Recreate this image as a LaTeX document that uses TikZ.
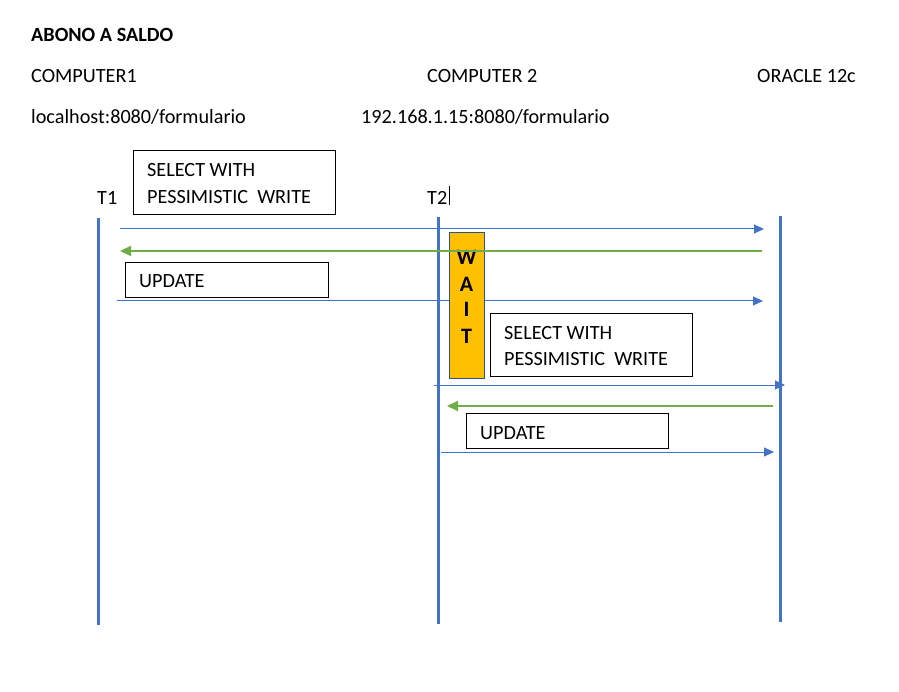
\documentclass[tikz,border=0pt]{standalone}
\usepackage{fontspec}
\setmainfont{Carlito}
\usetikzlibrary{positioning}
\usetikzlibrary{calc}
\usetikzlibrary{arrows.meta}
\definecolor{lineblue}{HTML}{4472C4}
\definecolor{replygreen}{HTML}{70AD47}
\definecolor{waitorange}{HTML}{FFC000}
\definecolor{waitedge}{HTML}{2F528F}
\tikzset{
	lifeline/.style={draw=lineblue, line width=3pt},
	call/.style={draw=lineblue, line width=1pt, -{Triangle[length=10pt,width=9pt]}},
	reply/.style={draw=replygreen, line width=2.2pt, -{Triangle[length=11pt,width=10pt]}},
	msgbox/.style={draw=black, line width=1pt, anchor=north west, inner sep=0pt},
	lbl/.style={inner sep=0pt, anchor=base west, font=\fontsize{20.2}{24}\selectfont},
}

\begin{document}
\begin{tikzpicture}[x=1pt,y=-1pt]
		\useasboundingbox (0,0) rectangle (899,692);
		% Headings
		\node[lbl] (title) at (31,41.5) {\bfseries ABONO A SALDO};
		\node[lbl] (comp1) at (31,82.7) {COMPUTER1};
		\node[lbl] (comp2) at (427,82.7) {COMPUTER 2};
		\node[lbl] (oracle) at (757,82.7) {ORACLE 12c};
		\node[lbl] (url1) at (31,124) {localhost:8080/formulario};
		\node[lbl] (url2) at (361,124) {192.168.1.15:8080/formulario};
		\node[lbl] (t1) at (97,205) {T1};
		\node[lbl] (t2) at (427,205) {T2};
		\draw[line width=0.8pt] ([xshift=1.5pt]t2.base east) -- ++(0,-19);
		% Lifelines
		\coordinate (top1) at (98,218);
		\coordinate (bot1) at (98,625);
		\coordinate (top2) at (438,217);
		\coordinate (bot2) at (438,624);
		\coordinate (top3) at (780,216);
		\coordinate (bot3) at (780,622);
		\draw[lifeline] (top1) -- (bot1);
		\draw[lifeline] (top2) -- (bot2);
		\draw[lifeline] (top3) -- (bot3);
		% Requests
		\coordinate (req1s) at (120,229);
		\coordinate (req1e) at (764,229);
		\coordinate (req2s) at (117,301);
		\coordinate (req2e) at (763,301);
		\coordinate (req3s) at (434,385);
		\coordinate (req3e) at (785,385);
		\coordinate (req4s) at (441,452);
		\coordinate (req4e) at (774,452);
		\draw[call] (req1s) -- (req1e);
		\draw[call] (req2s) -- (req2e);
		\draw[call] (req3s) -- (req3e);
		\draw[call] (req4s) -- (req4e);
		% Wait block
		\node[draw=waitedge, line width=1.6pt, fill=waitorange, anchor=north west, inner sep=0pt,
			minimum width=35pt, minimum height=146pt] (wait) at (448.8,231.8) {};
		\foreach \ch/\yy in {W/264.3, A/291.7, I/317, T/344}
			\node[lbl, anchor=base, font=\fontsize{22}{24}\selectfont\bfseries] (wait\ch) at (466.5,\yy) {\ch};
		% Replies
		\coordinate (rep1s) at (762,251);
		\coordinate (rep1e) at (120,251);
		\coordinate (rep2s) at (773,406);
		\coordinate (rep2e) at (447,406);
		\draw[reply] (rep1s) -- (rep1e);
		\draw[reply] (rep2s) -- (rep2e);
		% Query boxes
		\node[msgbox, minimum width=202pt, minimum height=64pt] (sel1) at (133,150) {};
		\node[lbl] (sel1a) at ([shift={(14,26.7)}]sel1.north west) {SELECT WITH};
		\node[lbl] (sel1b) at ([shift={(14,53.3)}]sel1.north west) {PESSIMISTIC\ \ WRITE};
		\node[msgbox, minimum width=203pt, minimum height=35pt] (upd1) at (125,262) {};
		\node[lbl] (upd1a) at ([shift={(14,25.7)}]upd1.north west) {UPDATE};
		\node[msgbox, minimum width=202pt, minimum height=63pt] (sel2) at (490,313) {};
		\node[lbl] (sel2a) at ([shift={(14,27)}]sel2.north west) {SELECT WITH};
		\node[lbl] (sel2b) at ([shift={(14,52.7)}]sel2.north west) {PESSIMISTIC\ \ WRITE};
		\node[msgbox, minimum width=202pt, minimum height=35pt] (upd2) at (466,413) {};
		\node[lbl] (upd2a) at ([shift={(14,26)}]upd2.north west) {UPDATE};
	\end{tikzpicture}
\end{document}
